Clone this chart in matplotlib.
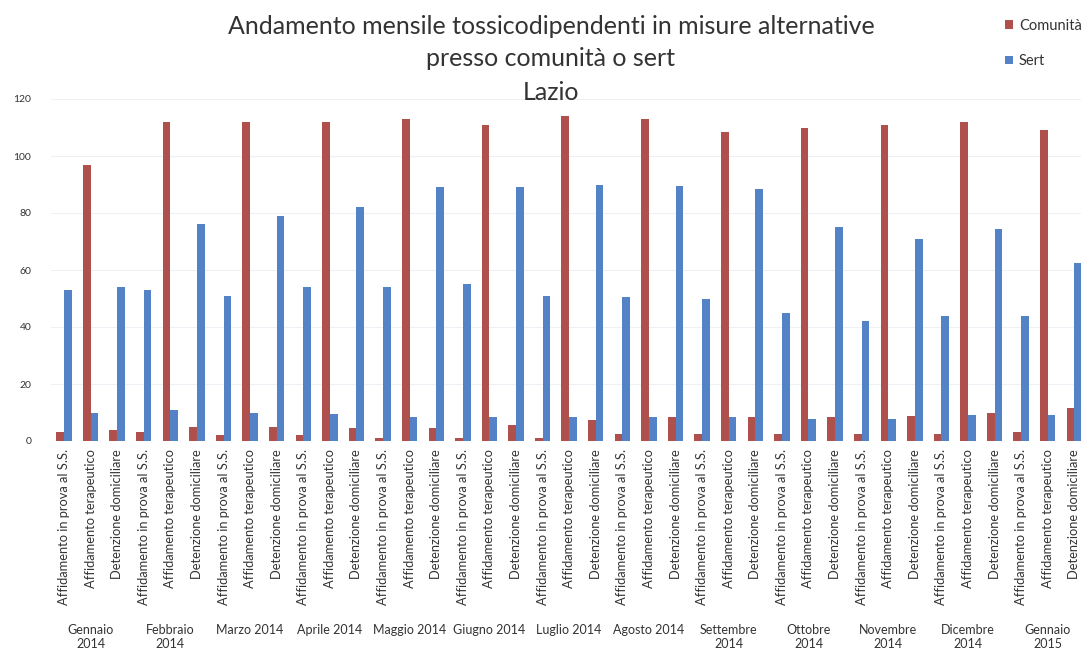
import matplotlib.pyplot as plt
import numpy as np

# data
months = ["Gennaio\n2014", "Febbraio\n2014", "Marzo 2014", "Aprile 2014", "Maggio 2014",
          "Giugno 2014", "Luglio 2014", "Agosto 2014", "Settembre\n2014", "Ottobre\n2014",
          "Novembre\n2014", "Dicembre\n2014", "Gennaio\n2015"]
categories = ["Affidamento in prova al S.S.", "Affidamento terapeutico", "Detenzione domiciliare"]

comunita = [3, 97, 4,   3, 112, 5,   2, 112, 5,   2, 112, 4.5,  1, 113, 4.5,
            1, 111, 5.5,  1, 114, 7.5,  2.5, 113, 8.5,  2.5, 108.5, 8.5,
            2.5, 110, 8.5,  2.5, 111, 8.7,  2.5, 112, 10,  3, 109, 11.5]
sert = [53, 10, 54,   53, 11, 76,   51, 10, 79,   54, 9.5, 82,   54, 8.5, 89,
        55, 8.5, 89,   51, 8.5, 90,   50.5, 8.5, 89.5,   50, 8.5, 88.5,
        45, 7.7, 75,   42, 7.7, 71,   44, 9, 74.5,   44, 9, 62.5]

plt.rcParams['font.family'] = ['Lato', 'DejaVu Sans']

red = '#b0504d'
blue = '#5383c6'

fig = plt.figure(figsize=(10.81, 6.51), dpi=100)
ax = fig.add_axes([50.7 / 1081, 1 - 441 / 651, (1081 - 50.7) / 1081, 342 / 651])

x = np.arange(len(comunita))
w = 0.29
ax.bar(x - w / 2, comunita, w, color=red, label='Comunità')
ax.bar(x + w / 2, sert, w, color=blue, label='Sert')

ax.set_xlim(-0.5, 38.25)
ax.set_ylim(0, 120)
ax.set_yticks(range(0, 121, 20))
ax.tick_params(axis='y', length=0, labelsize=7.5, colors='#333333', pad=14)
ax.yaxis.grid(True, color='#eef0f6', linewidth=0.8)
ax.set_axisbelow(True)
for s in ax.spines.values():
    s.set_visible(False)

ax.set_xticks(x)
ax.set_xticklabels(categories * len(months), rotation=90, fontsize=9.3, color='#333333')
ax.tick_params(axis='x', length=0, pad=6)

trans = ax.get_xaxis_transform()
for i, m in enumerate(months):
    ax.text(3 * i + 1, -(624 - 441) / 342, m, transform=trans, ha='center', va='top',
            fontsize=9, color='#333333', linespacing=1.15)

fig.text(551 / 1081, 1 - 26 / 651, "Andamento mensile tossicodipendenti in misure alternative",
         ha='center', va='center', fontsize=18, color='#333333')
fig.text(551 / 1081, 1 - 59 / 651, "presso comunità o sert",
         ha='center', va='center', fontsize=18, color='#333333')
fig.text(551 / 1081, 1 - 92 / 651, "Lazio",
         ha='center', va='center', fontsize=18, color='#333333')

fig.legend(loc='upper left', bbox_to_anchor=(1002 / 1081, 1 - 16 / 651), frameon=False,
           fontsize=10.5, handlelength=0.55, handleheight=0.55, handletextpad=0.4,
           labelspacing=1.45, labelcolor='#333333', borderaxespad=0, borderpad=0.2)

fig.savefig('out.png', dpi=100)
